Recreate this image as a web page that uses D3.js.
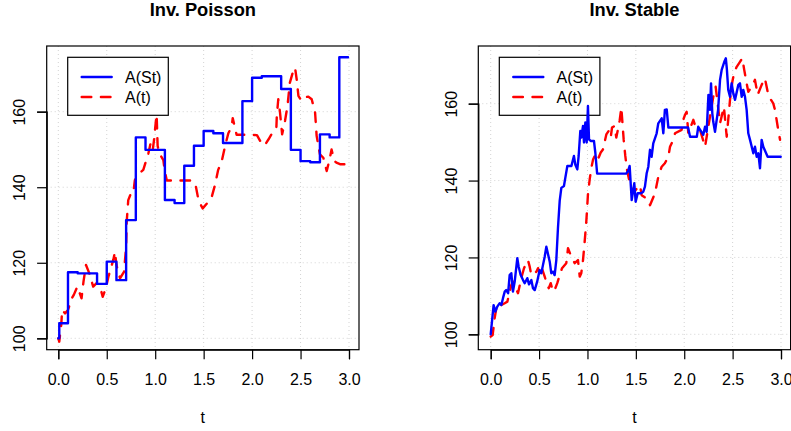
<!DOCTYPE html>
<html>
<head>
<meta charset="utf-8">
<script src="https://cdn.jsdelivr.net/npm/d3@7"></script>
<style>
	body {margin: 0; background: #fff;}
	svg {display: block;}
	text {font-family: "Liberation Sans", Arial, sans-serif; fill: #000;}
</style>
</head>
<body>
<svg id="chart" width="791" height="431"></svg>
<script>
const xTicks = [0, 0.5, 1, 1.5, 2, 2.5, 3];
const yTicks = [100, 120, 140, 160];
const legendLabels = ['A(St)', 'A(t)'];

// Inv. Poisson: A(St) is a step path, A(t) the plain path
const poissonStT = [0, 0.01, 0.1, 0.2, 0.4, 0.5, 0.6, 0.7, 0.8, 0.9, 1.1, 1.2, 1.3, 1.4, 1.5, 1.6, 1.7, 1.9, 2.0, 2.1, 2.3, 2.4, 2.5, 2.6, 2.7, 2.8, 2.9, 2.99];
const poissonSt = [100, 104, 117.5, 117.2, 114.4, 120.3, 115.4, 131.3, 153.2, 149.9, 136.6, 135.8, 145.7, 151.0, 154.9, 154.3, 151.7, 162.8, 169.0, 169.4, 166.0, 149.9, 146.9, 146.6, 154.0, 153.2, 174.4, 174.4];

const poissonAtT = [0, 0.01, 0.03, 0.04, 0.07, 0.10, 0.14, 0.16, 0.197, 0.24, 0.26, 0.286, 0.32, 0.36, 0.395, 0.43, 0.458, 0.49, 0.517, 0.567, 0.585, 0.60, 0.637, 0.678, 0.699, 0.706, 0.722, 0.75, 0.774, 0.79, 0.836, 0.877, 0.93, 0.953, 0.975, 0.988, 1.008, 1.015, 1.025, 1.042, 1.084, 1.10, 1.12, 1.38, 1.42, 1.44, 1.46, 1.49, 1.55, 1.58, 1.617, 1.65, 1.686, 1.72, 1.755, 1.79, 1.80, 1.84, 1.93, 2.05, 2.10, 2.13, 2.17, 2.20, 2.25, 2.255, 2.27, 2.288, 2.31, 2.34, 2.365, 2.39, 2.42, 2.443, 2.46, 2.478, 2.51, 2.546, 2.58, 2.615, 2.65, 2.666, 2.70, 2.735, 2.77, 2.80, 2.82, 2.848, 2.87, 2.907, 2.99];
const poissonAt = [100, 99.1, 103.5, 107.5, 106.6, 107.5, 110.6, 111.5, 113.7, 110.6, 115, 119.4, 117.2, 113.7, 114.6, 113.7, 111, 113.2, 116.3, 120.7, 122.9, 119.4, 115.9, 117.6, 123.8, 130.9, 136.6, 138.4, 138.4, 141.9, 143.7, 144.6, 149, 151.7, 149.9, 152.5, 157.8, 159.2, 151, 149, 147.2, 144.1, 141.8, 141.8, 140.2, 137.5, 135.8, 134.4, 136.2, 137.1, 140.6, 144.6, 146.8, 150.8, 154.3, 156.1, 158.3, 153.9, 153.9, 153.8, 151.5, 151.1, 152.7, 154, 155.5, 158.9, 163.3, 159.8, 154, 157.6, 161.5, 167.7, 170.4, 171.7, 168.6, 164.2, 162.9, 163.8, 164, 163.3, 159.8, 153.6, 148.7, 147.8, 144.3, 147.4, 150, 147, 146.5, 146.1, 146.1];

// Inv. Stable
const stableStT = [0, 0.03, 0.048, 0.068, 0.093, 0.11, 0.127, 0.145, 0.16, 0.18, 0.196, 0.213, 0.23, 0.248, 0.275, 0.289, 0.31, 0.334, 0.351, 0.378, 0.396, 0.42, 0.437, 0.455, 0.48, 0.506, 0.523, 0.54, 0.558, 0.575, 0.61, 0.626, 0.644, 0.661, 0.678, 0.695, 0.713, 0.73, 0.757, 0.771, 0.792, 0.834, 0.86, 0.874, 0.895, 0.909, 0.926, 0.936, 0.954, 0.964, 0.978, 0.992, 1.005, 1.016, 1.033, 1.067, 1.081, 1.10, 1.40, 1.42, 1.436, 1.457, 1.484, 1.498, 1.519, 1.553, 1.577, 1.594, 1.612, 1.629, 1.646, 1.663, 1.68, 1.715, 1.732, 1.767, 1.784, 1.80, 1.819, 1.836, 2.04, 2.06, 2.13, 2.145, 2.197, 2.215, 2.232, 2.25, 2.266, 2.277, 2.29, 2.30, 2.318, 2.35, 2.37, 2.387, 2.414, 2.43, 2.44, 2.455, 2.473, 2.49, 2.507, 2.525, 2.559, 2.576, 2.594, 2.61, 2.628, 2.645, 2.662, 2.68, 2.714, 2.731, 2.749, 2.766, 2.783, 2.80, 2.817, 2.862, 2.997];
const stableSt = [100, 107.6, 105.9, 107.2, 108.1, 107.6, 109.4, 111.1, 111.5, 110.7, 115.4, 115.9, 111.1, 113.7, 119.8, 117.6, 115.4, 114.1, 113.3, 114.6, 113, 114.1, 112, 111.5, 113.7, 116.7, 115.9, 118, 120.2, 122.8, 118.9, 115.9, 116.3, 115.4, 119.3, 127.6, 134.7, 138.1, 138.6, 140.7, 143.8, 143.8, 146.4, 144.2, 142.9, 146.4, 152.9, 151.2, 154.2, 149.9, 155.1, 149.9, 159.4, 150.7, 150.3, 150.3, 147.3, 141.8, 141.8, 142.5, 143.8, 134.9, 139.3, 134.5, 136.7, 136.7, 137.1, 138.4, 141.9, 143.6, 148, 146.2, 149.7, 152.3, 154.9, 156.2, 152.3, 158.4, 158.5, 153.8, 153.8, 151.4, 151.4, 154, 151.9, 154, 152.7, 162.3, 158.4, 165.3, 157.5, 155.3, 152.7, 158.4, 166.2, 168.8, 170.9, 171.8, 169.2, 163.6, 161.8, 165.3, 162.7, 161, 164.9, 165.3, 161.8, 163.6, 161.8, 158.4, 152.3, 150.6, 147.1, 148.8, 146.2, 147.1, 143.2, 150.6, 148.8, 146.2, 146.2];

const stableAtT = [0, 0.02, 0.041, 0.058, 0.083, 0.11, 0.145, 0.172, 0.213, 0.23, 0.282, 0.316, 0.344, 0.385, 0.403, 0.42, 0.472, 0.489, 0.506, 0.523, 0.558, 0.585, 0.6, 0.62, 0.644, 0.668, 0.688, 0.713, 0.737, 0.781, 0.799, 0.833, 0.868, 0.902, 0.92, 0.936, 0.954, 0.971, 0.988, 1.005, 1.023, 1.04, 1.058, 1.092, 1.116, 1.137, 1.16, 1.195, 1.219, 1.24, 1.254, 1.28, 1.298, 1.315, 1.332, 1.35, 1.374, 1.391, 1.408, 1.426, 1.47, 1.543, 1.56, 1.629, 1.646, 1.698, 1.732, 1.767, 1.80, 1.836, 1.853, 1.887, 1.905, 1.973, 1.99, 2.008, 2.025, 2.042, 2.094, 2.11, 2.163, 2.215, 2.266, 2.283, 2.30, 2.325, 2.37, 2.41, 2.439, 2.473, 2.497, 2.518, 2.542, 2.576, 2.6, 2.62, 2.645, 2.662, 2.697, 2.731, 2.759, 2.80, 2.834, 2.862, 2.886, 2.92, 2.938, 2.966, 2.99];
const stableAt = [99.4, 99.8, 104.2, 106.8, 106.3, 107.6, 108.1, 108.5, 112.8, 113.7, 110.7, 114.6, 117.2, 119.3, 117.6, 115.4, 116.3, 117.2, 115.9, 117.6, 115, 112.8, 112, 113.3, 111.1, 112, 113.3, 115.4, 117.2, 118.5, 122.4, 120.2, 118.5, 119.3, 115, 115.9, 119.3, 124.1, 129.3, 136.4, 140.3, 143.3, 145.5, 147.3, 146, 147.3, 148.1, 152, 152.9, 151.2, 153.8, 154.2, 151.2, 153.3, 155.5, 159, 150.7, 146.4, 142.9, 140.7, 136.8, 138.8, 136.2, 135, 133.6, 136.7, 141, 143.6, 144.5, 146.2, 148.8, 150.6, 152.3, 153.2, 155.8, 157.1, 157.9, 152.3, 155.8, 154.5, 153.2, 148.8, 156.6, 159.2, 161.8, 164.4, 154.9, 159.2, 151.4, 161, 165.7, 168.3, 169.6, 170.9, 171.8, 168.8, 165.3, 163.1, 164.4, 166.2, 162.3, 164.9, 166.6, 163.1, 161.4, 160.1, 158.4, 154, 150.6];

const panels = [
	{title: 'Inv. Poisson', box: [46.7, 46, 359, 349.7], xRange: [58.3, 349], yRange: [338.3, 111.7],
		stT: poissonStT, st: poissonSt, atT: poissonAtT, at: poissonAt, stepped: true},
	{title: 'Inv. Stable', box: [478.3, 46, 790.6, 349.7], xRange: [490.7, 781], yRange: [334.3, 103.7],
		stT: stableStT, st: stableSt, atT: stableAtT, at: stableAt, stepped: false}
];

const svg = d3.select('#chart');

const drawPanel = p => {
	const [x0, y0, x1, y1] = p.box,
		x = d3.scaleLinear().domain([0, 3]).range(p.xRange),
		y = d3.scaleLinear().domain([100, 160]).range(p.yRange),
		g = svg.append('g'),
		cx = (x0 + x1) / 2;

	g.append('text')
		.attr('x', cx).attr('y', 16)
		.attr('text-anchor', 'middle')
		.style('font-weight', 'bold').style('font-size', '18.3px')
		.text(p.title);

	// grid
	g.selectAll('.gx').data(xTicks).enter().append('line')
		.attr('x1', d => x(d)).attr('x2', d => x(d))
		.attr('y1', y0).attr('y2', y1);
	g.selectAll('.gy').data(yTicks).enter().append('line')
		.attr('y1', d => y(d)).attr('y2', d => y(d))
		.attr('x1', x0).attr('x2', x1);
	g.selectAll('line')
		.attr('stroke', '#d3d3d3').attr('stroke-width', 1)
		.attr('stroke-dasharray', '1 3');

	// axes
	const xAxis = d3.axisBottom(x).tickValues(xTicks).tickFormat(d3.format('.1f')).tickSize(9.6).tickPadding(6),
		yAxis = d3.axisLeft(y).tickValues(yTicks).tickFormat(d3.format('d')).tickSize(9.6);

	const gx = g.append('g').attr('transform', `translate(0,${y1})`).call(xAxis);
	gx.selectAll('text').attr('y', 35.3).attr('dy', null).style('font-size', '16px');

	const gy = g.append('g').attr('transform', `translate(${x0},0)`).call(yAxis);
	gy.selectAll('.tick text')
		.attr('x', null).attr('dy', null)
		.attr('text-anchor', 'middle')
		.attr('transform', 'translate(-21.7,0) rotate(-90)')
		.style('font-size', '16px');

	g.selectAll('.domain').attr('stroke', '#000').attr('stroke-width', 1.2);
	g.selectAll('.tick line').attr('stroke', '#000').attr('stroke-width', 1.2);

	g.append('text')
		.attr('x', cx).attr('y', 423)
		.attr('text-anchor', 'middle').style('font-size', '16px')
		.text('t');

	g.append('rect')
		.attr('x', x0).attr('y', y0)
		.attr('width', x1 - x0).attr('height', y1 - y0)
		.attr('fill', 'none').attr('stroke', '#000').attr('stroke-width', 1.2);

	// legend
	const lg = g.append('g').attr('transform', `translate(${x0 + 21},57.3)`);
	lg.append('rect')
		.attr('width', 100.6).attr('height', 58)
		.attr('fill', '#fff').attr('stroke', '#000').attr('stroke-width', 1.2);
	const rows = lg.selectAll('.row').data(legendLabels).enter().append('g')
		.attr('transform', (_, i) => `translate(0,${19.7 + i * 20})`);
	rows.append('line')
		.attr('x1', 14).attr('x2', 44)
		.attr('stroke', (_, i) => i ? '#ff0000' : '#0000ff')
		.attr('stroke-width', 2.4)
		.attr('stroke-linecap', 'round')
		.attr('stroke-dasharray', (_, i) => i ? '9.6 9.6' : null);
	rows.append('text')
		.attr('x', 57.3).attr('y', 5.6)
		.style('font-size', '16px')
		.text(d => d);

	// series
	const stLine = d3.line()
		.x(d => x(d[0])).y(d => y(d[1]))
		.curve(p.stepped ? d3.curveStepAfter : d3.curveLinear);
	const atLine = d3.line().x(d => x(d[0])).y(d => y(d[1]));

	g.append('path')
		.datum(d3.zip(p.atT, p.at))
		.attr('d', atLine)
		.attr('fill', 'none').attr('stroke', '#ff0000').attr('stroke-width', 2.4)
		.attr('stroke-linecap', 'round').attr('stroke-linejoin', 'round')
		.attr('stroke-dasharray', '9.6 9.6');

	g.append('path')
		.datum(d3.zip(p.stT, p.st))
		.attr('d', stLine)
		.attr('fill', 'none').attr('stroke', '#0000ff').attr('stroke-width', 2.4)
		.attr('stroke-linecap', 'round').attr('stroke-linejoin', 'round');
};

panels.forEach(drawPanel);
</script>
</body>
</html>
